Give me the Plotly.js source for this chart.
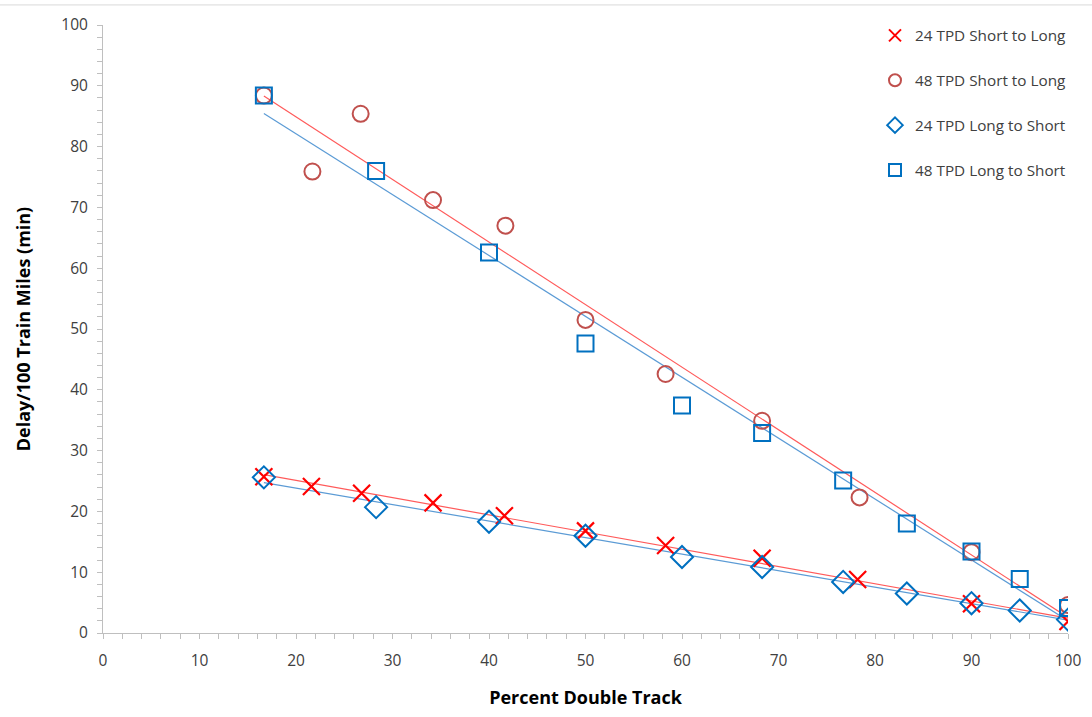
<!DOCTYPE html>
<html>
<head>
<meta charset="utf-8">
<script src="https://cdn.plot.ly/plotly-3.0.1.min.js"></script>
<style>html,body{margin:0;padding:0;background:#fff;}#chart{width:1092px;height:717px;}</style>
</head>
<body>
<div id="chart"></div>
<script>
// Data
const names = ["24 TPD Short to Long", "48 TPD Short to Long", "24 TPD Long to Short", "48 TPD Long to Short"];

const x24S2L = [16.67, 21.6, 26.8, 34.2, 41.6, 50, 58.3, 68.3, 78.2, 90, 100];
const y24S2L = [25.7, 24.1, 23.0, 21.4, 19.3, 16.8, 14.4, 12.3, 8.8, 4.8, 1.9];

const x48S2L = [16.67, 21.7, 26.7, 34.2, 41.7, 50, 58.3, 68.3, 78.4, 90, 100];
const y48S2L = [88.4, 75.9, 85.4, 71.2, 67.0, 51.5, 42.6, 34.9, 22.3, 13.3, 4.6];

const x24L2S = [16.67, 28.3, 40, 50, 60, 68.3, 76.7, 83.3, 90, 95, 100];
const y24L2S = [25.6, 20.7, 18.3, 16.0, 12.5, 10.85, 8.4, 6.5, 4.9, 3.7, 2.2];

const x48L2S = [16.67, 28.3, 40, 50, 60, 68.3, 76.7, 83.3, 90, 95, 100];
const y48L2S = [88.4, 76.0, 62.6, 47.6, 37.4, 32.9, 25.1, 18.0, 13.4, 8.9, 4.1];

const xTitle = "Percent Double Track";
const yTitle = "Delay/100 Train Miles (min)";

// least-squares linear trendline (as Excel does)
function trend(xs, ys) {
  const n = xs.length;
  let sx = 0, sy = 0, sxx = 0, sxy = 0;
  for (let i = 0; i < n; i++) { sx += xs[i]; sy += ys[i]; sxx += xs[i]*xs[i]; sxy += xs[i]*ys[i]; }
  const b = (n*sxy - sx*sy) / (n*sxx - sx*sx);
  const a = (sy - b*sx) / n;
  const x0 = Math.min(...xs), x1 = Math.max(...xs);
  return {x: [x0, x1], y: [a + b*x0, a + b*x1]};
}

const redLine = '#ff5a5a', blueLine = '#5b9bd5';
const series = [
  {x: x24S2L, y: y24S2L, name: names[0], sym: 'x-thin-open', size: 17, col: '#ff0000', lc: redLine, w: 2.2},
  {x: x48S2L, y: y48S2L, name: names[1], sym: 'circle-open', size: 16, col: '#c0504d', lc: redLine, w: 2},
  {x: x24L2S, y: y24L2S, name: names[2], sym: 'diamond-open', size: 17, col: '#0070c0', lc: blueLine, w: 2},
  {x: x48L2S, y: y48L2S, name: names[3], sym: 'square-open', size: 16, col: '#0070c0', lc: blueLine, w: 2}
];

const traces = [];
series.forEach((s, i) => {
  const t = trend(s.x, s.y);
  traces.push({x: t.x, y: t.y, mode: 'lines', type: 'scatter', line: {color: s.lc, width: 1.2},
    showlegend: false, hoverinfo: 'skip', legendgroup: 'g' + i});
});
series.forEach((s, i) => {
  traces.push({x: s.x, y: s.y, mode: 'markers', type: 'scatter', name: s.name, legendgroup: 'g' + i,
    marker: {symbol: s.sym, size: s.size, color: s.col, line: {color: s.col, width: s.w}}});
});

const font = 'Open Sans, Liberation Sans, sans-serif';
const layout = {
  width: 1092, height: 717,
  margin: {l: 103, r: 24, t: 25, b: 84},
  paper_bgcolor: '#fff', plot_bgcolor: '#fff',
  font: {family: font, size: 15, color: '#404040'},
  showlegend: true,
  legend: {x: 0.80, xanchor: 'left', y: 1.01, yanchor: 'top', tracegroupgap: 22,
    font: {family: font, size: 15.3, color: '#404040'}, bgcolor: 'rgba(0,0,0,0)', itemsizing: 'constant'},
  xaxis: {range: [0, 100], dtick: 10, tick0: 0, showgrid: false, zeroline: false,
    showline: true, linecolor: '#bfbfbf', linewidth: 1, ticks: 'outside', ticklen: 5, tickcolor: '#bfbfbf',
    minor: {dtick: 2, ticks: 'outside', ticklen: 5, tickcolor: '#bfbfbf', showgrid: false},
    ticklabelstandoff: 8,
    tickfont: {family: font, size: 15.5, color: '#404040'},
    title: {text: xTitle, font: {family: font, size: 18, color: '#000', weight: 'bold'}, standoff: 21}},
  yaxis: {range: [0, 100], dtick: 10, tick0: 0, showgrid: false, zeroline: false,
    showline: true, linecolor: '#bfbfbf', linewidth: 1, ticks: 'outside', ticklen: 5, tickcolor: '#bfbfbf',
    minor: {dtick: 2, ticks: 'outside', ticklen: 5, tickcolor: '#bfbfbf', showgrid: false},
    ticklabelstandoff: 6,
    tickfont: {family: font, size: 15.5, color: '#404040'},
    title: {text: yTitle, font: {family: font, size: 18, color: '#000', weight: 'bold'}, standoff: 26}},
  shapes: [{type: 'line', xref: 'paper', yref: 'paper', x0: -0.107, x1: 1.025, y0: 1.033, y1: 1.033,
    line: {color: '#d9d9d9', width: 1}}]
};

Plotly.newPlot('chart', traces, layout, {displayModeBar: false, staticPlot: true});
</script>
</body>
</html>
